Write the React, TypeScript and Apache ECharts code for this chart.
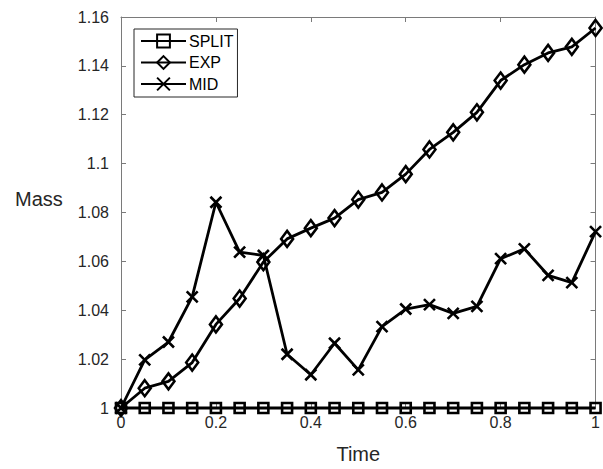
import React, { useEffect, useRef } from "react";
import * as echarts from "echarts";

const times = [0, 0.05, 0.1, 0.15, 0.2, 0.25, 0.3, 0.35, 0.4, 0.45, 0.5, 0.55, 0.6, 0.65, 0.7, 0.75, 0.8, 0.85, 0.9, 0.95, 1.0];
const splitMass = [1, 1, 1, 1, 1, 1, 1, 1, 1, 1, 1, 1, 1, 1, 1, 1, 1, 1, 1, 1, 1];
const expMass = [1.0, 1.0081, 1.0109, 1.0186, 1.0342, 1.0448, 1.0597, 1.0692, 1.0736, 1.0777, 1.0853, 1.0882, 1.0957, 1.1058, 1.1128, 1.121, 1.134, 1.1405, 1.1453, 1.1478, 1.1555];
const midMass = [1.0, 1.0197, 1.027, 1.0455, 1.0842, 1.0638, 1.0624, 1.022, 1.0136, 1.0265, 1.0156, 1.0333, 1.0405, 1.0423, 1.0387, 1.0416, 1.0611, 1.0651, 1.0543, 1.0513, 1.0722];
const seriesNames = ["SPLIT", "EXP", "MID"];
const xTicks = { min: 0, max: 1, interval: 0.2 };
const yTicks = { min: 1, max: 1.16, interval: 0.02 };

const FONT = "'Liberation Sans', Arial, Helvetica, sans-serif";
const TEXT = "#262626";
const AXIS = "#7a7a7a";

function pairs(vals: number[]) {
  return times.map((t, i) => [t, vals[i]]);
}

export default function App() {
  const ref = useRef<HTMLDivElement>(null);
  useEffect(() => {
    if (!ref.current) return;
    const chart = echarts.init(ref.current, undefined, { renderer: "svg" });
    const tick = { show: true, inside: true, length: 5, lineStyle: { color: AXIS, width: 1 } };
    const axLine = { show: true, onZero: false, lineStyle: { color: AXIS, width: 1 } };
    const baseSeries = (name: string, vals: number[], symbol: string, size: any) => ({
      name,
      type: "line",
      data: pairs(vals),
      symbol,
      symbolSize: size,
      showSymbol: true,
      clip: false,
      lineStyle: { color: "#000", width: 2.8 },
      itemStyle: { color: "transparent", borderColor: "#000", borderWidth: 2.6 },
      emphasis: { disabled: true },
    });
    chart.setOption({
      animation: false,
      textStyle: { fontFamily: FONT },
      grid: { left: 121, right: 3, top: 17, bottom: 59, containLabel: false },
      xAxis: [
        {
          type: "value",
          ...xTicks,
          axisLine: axLine,
          axisTick: tick,
          splitLine: { show: false },
          axisLabel: { color: TEXT, fontSize: 16, fontFamily: FONT, margin: 6 },
          name: "Time",
          nameLocation: "middle",
          nameGap: 36,
          nameTextStyle: { color: TEXT, fontSize: 20, fontFamily: FONT },
        },
        {
          type: "value",
          position: "top",
          ...xTicks,
          axisLine: axLine,
          axisTick: tick,
          splitLine: { show: false },
          axisLabel: { show: false },
        },
      ],
      yAxis: [
        {
          type: "value",
          ...yTicks,
          axisLine: axLine,
          axisTick: tick,
          splitLine: { show: false },
          axisLabel: { color: TEXT, fontSize: 16, fontFamily: FONT, margin: 12 },
        },
        {
          type: "value",
          position: "right",
          ...yTicks,
          axisLine: axLine,
          axisTick: tick,
          splitLine: { show: false },
          axisLabel: { show: false },
        },
      ],
      legend: {
        data: seriesNames,
        orient: "vertical",
        left: 134,
        top: 29,
        itemWidth: 45,
        itemHeight: 16,
        itemGap: 5.5,
        padding: [4, 4, 5, 6],
        borderColor: "#262626",
        borderWidth: 1,
        backgroundColor: "#fff",
        textStyle: { color: "#000", fontSize: 16, fontFamily: FONT, padding: [0, 0, 0, -2] },
        selectedMode: false,
      },
      graphic: [
        {
          type: "text",
          left: 15,
          top: 189,
          style: { text: "Mass", fill: TEXT, font: `20px ${FONT}` },
        },
      ],
      series: [
        baseSeries(seriesNames[0], splitMass, "rect", 10),
        baseSeries(seriesNames[1], expMass, "diamond", [12, 16]),
        baseSeries(seriesNames[2], midMass, "path://M0,0L10,10M10,0L0,10", 11),
      ],
    });
    return () => chart.dispose();
  }, []);
  return <div ref={ref} style={{ width: 603, height: 469, position: "absolute", left: 0, top: 0 }} />;
}
